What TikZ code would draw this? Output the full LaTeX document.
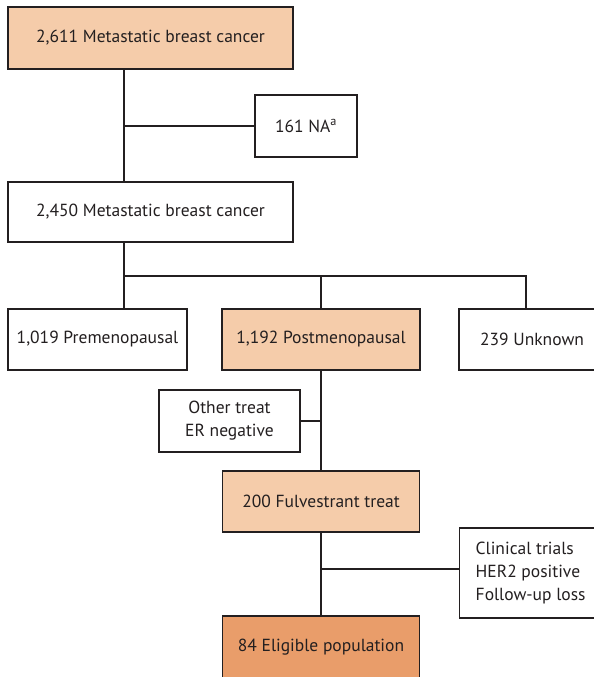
\documentclass[tikz,border=0pt]{standalone}
\usepackage{fontspec}
\setmainfont{PT Sans}
\definecolor{peach}{HTML}{F5CCAA}
\definecolor{ochre}{HTML}{E99D6A}
\definecolor{ink}{HTML}{231F20}

\begin{document}
\begin{tikzpicture}[x=1pt, y=-1pt,
  box/.style={draw=ink, line width=1.4pt, fill=white, inner sep=0pt, text=ink,
    align=center, font=\fontsize{17.5}{23}\selectfont},
  link/.style={draw=ink, line width=1.4pt}]
\useasboundingbox (0,0) rectangle (594,677);
\clip (0,0) rectangle (594,677);

\node[box, fill=peach, minimum width=285pt, minimum height=62pt] (top)  at (150.5,38)  {2,611 Metastatic breast cancer};
\node[box, minimum width=102pt, minimum height=62pt]            (na)   at (306,126)   {161 NA\textsuperscript{a}};
\node[box, minimum width=285pt, minimum height=60pt]            (all)  at (150.5,212) {2,450 Metastatic breast cancer};
\node[box, minimum width=179pt, minimum height=61pt]            (pre)  at (97.5,339.5) {1,019 Premenopausal};
\node[box, fill=peach, minimum width=198pt, minimum height=61pt] (post) at (321,339.5) {1,192 Postmenopausal};
\node[box, minimum width=146pt, minimum height=61pt]            (unk)  at (532,339.5) {239 Unknown};
\node[box, minimum width=141pt, minimum height=62pt]            (other) at (229.5,421) {Other treat\\ER negative};
\node[box, fill=peach, minimum width=197pt, minimum height=61pt] (fulv) at (321,501.5) {200 Fulvestrant treat};
\node[box, align=left, anchor=west, inner xsep=16pt, minimum height=90pt] (excl) at (459,573)
  {Clinical trials\\HER2 positive\\Follow-up loss};
\node[box, fill=ochre, minimum width=197pt, minimum height=62pt] (elig) at (321,647) {84 Eligible population};

% connectors
\coordinate (trunk) at (124,0);
\coordinate (split) at (124,276);
\draw[link] (top.south -| trunk) -- (all.north -| trunk);
\draw[link] (na.west) -- (na.west -| trunk);
\draw[link] (all.south -| trunk) -- (pre.north -| trunk);
\draw[link] (split) -| (post.north);
\draw[link] (split) -| ([xshift=-6pt]unk.north);
\draw[link] (post.south) -- (post.south |- fulv.north);
\draw[link] (other.east) -- (other.east -| post.south);
\draw[link] (fulv.south) -- (fulv.south |- elig.north);
\draw[link] ([yshift=4pt]excl.west) -- ([yshift=4pt]excl.west -| fulv.south);
\end{tikzpicture}
\end{document}
